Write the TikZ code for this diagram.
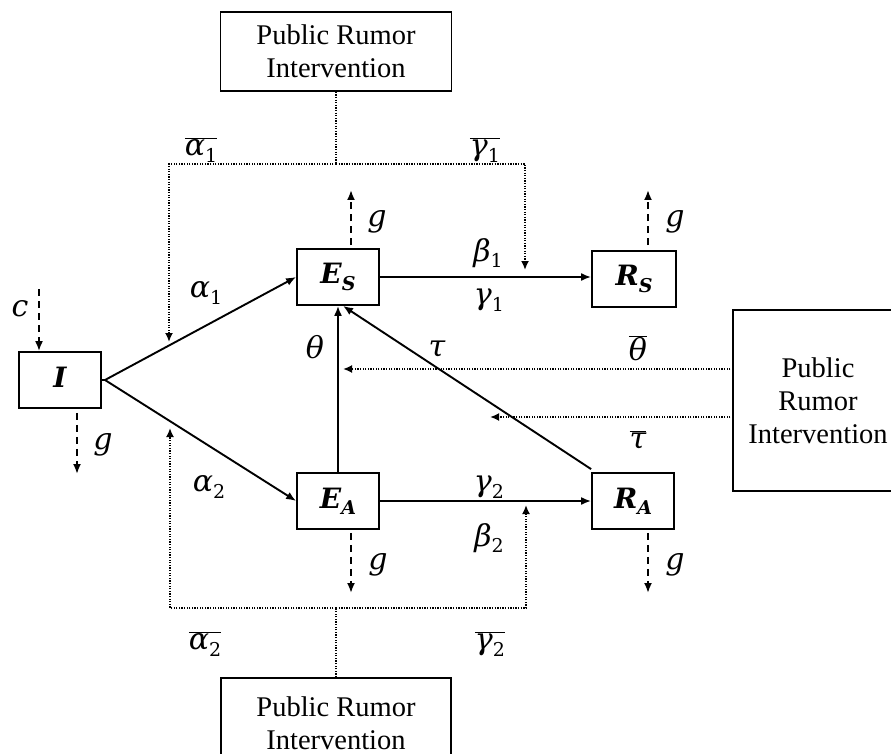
\RequirePackage{fix-cm}
\documentclass[tikz,border=0pt]{standalone}
\usepackage{fontspec}
\newfontfamily\boxfont{Liberation Serif}
\newfontfamily\lf{DejaVu Serif}
\newcommand\sym[2]{{\lf\itshape #1}\raisebox{-0.22em}{\lf\fontsize{19}{19}\selectfont #2}}
\newcommand\bsym[2]{{\lf\bfseries\itshape #1}\raisebox{-0.22em}{\lf\bfseries\itshape\fontsize{19}{19}\selectfont #2}}
\newcommand\ovl[1]{$\overline{\hbox{#1}}$}
\usetikzlibrary{arrows.meta}
\tikzset{
 box/.style={draw, line width=1.8pt, minimum width=82pt, minimum height=56pt, inner sep=0pt, font=\lf\fontsize{28}{30}\selectfont},
 pbox/.style={draw, line width=1.6pt, inner sep=0pt, align=center, font=\boxfont\fontsize{28.5}{33}\selectfont},
 arr/.style={line width=1.9pt, -{Latex[length=10pt,width=8pt]}},
 dasharr/.style={line width=1.9pt, dash pattern=on 7pt off 5pt, -{Latex[length=10pt,width=8pt]}},
 dotline/.style={line width=1.8pt, dash pattern=on 1.3pt off 1.3pt},
 dotarr/.style={dotline, -{Latex[length=9pt,width=8pt]}},
 lbl/.style={font=\lf\fontsize{30}{34}\selectfont, inner sep=0pt},
}
\begin{document}
\begin{tikzpicture}[x=1pt,y=-1pt]
\useasboundingbox (0,0) rectangle (891,754);
\clip (0,0) rectangle (891,754);
% boxes
\node[box] (I) at (60,380) {\bsym{I}{}};
\node[box] (Es) at (338,277) {\bsym{E}{S}};
\node[box, minimum width=84pt] (Rs) at (634,279) {\bsym{R}{S}};
\node[box] (EA) at (338,501) {\bsym{E}{A}};
\node[box] (RA) at (633,501) {\bsym{R}{A}};
\node[pbox, minimum width=231pt, minimum height=79pt] (top) at (336,51.5) {Public Rumor\\Intervention};
\node[pbox, minimum width=230pt, minimum height=90pt] (bot) at (336,723) {Public Rumor\\Intervention};
\node[pbox, minimum width=170pt, minimum height=181pt] (rt) at (818,400.5) {Public\\Rumor\\Intervention};
% coordinates
\coordinate (ap) at (105,380);
\coordinate (t0) at (336,164);
\coordinate (pa1) at (169,342);
\coordinate (pg1) at (525,270);
\coordinate (b0) at (336,608);
\coordinate (pa2) at (170,428);
\coordinate (pb2) at (526,505);
\coordinate (th0) at (733,369);
\coordinate (th1) at (343,369);
\coordinate (ta0) at (733,417);
\coordinate (ta1) at (490,417);
\coordinate (cs) at (39,289);
\coordinate (gI) at (77,474);
\coordinate (gEs) at (351,190);
\coordinate (gRs) at (648,190);
\coordinate (gEA) at (351,593);
\coordinate (gRA) at (648,593);
% main arrows
\draw[line width=1.9pt] (I.east) -- (ap);
\draw[arr] (ap) -- (Es.west);
\draw[arr] (ap) -- (EA.west);
\draw[arr] (Es.east) -- (Es.east -| Rs.west);
\draw[arr] (EA.east) -- (RA.west);
\draw[arr] (EA.north) -- (Es.south);
\draw[arr] ([yshift=3pt]RA.north west) -- ([xshift=5pt]Es.south);
% dashed arrows
\draw[dasharr] (cs) -- ([xshift=-21pt]I.north);
\draw[dasharr] ([xshift=17pt,yshift=-4pt]I.south) -- (gI);
\draw[dasharr] ([xshift=13pt,yshift=3pt]Es.north) -- (gEs);
\draw[dasharr] ([xshift=14pt,yshift=5pt]Rs.north) -- (gRs);
\draw[dasharr] ([xshift=13pt,yshift=-3pt]EA.south) -- (gEA);
\draw[dasharr] ([xshift=15pt,yshift=-3pt]RA.south) -- (gRA);
% dotted
\draw[dotline] (top.south) -- (t0);
\draw[dotarr] (t0) -| (pa1);
\draw[dotarr] (t0) -| (pg1);
\draw[dotline] (bot.north) -- (b0);
\draw[dotarr] (b0) -| (pa2);
\draw[dotarr] (b0) -| (pb2);
\draw[dotarr] (th0) -- (th1);
\draw[dotarr] (ta0) -- (ta1);
% labels
\node[lbl] (l1) at (201,150) {\ovl{\sym{α}{1}}};
\node[lbl] (l2) at (485,150) {\ovl{\sym{γ}{1}}};
\node[lbl] (l3) at (205,644) {\ovl{\sym{α}{2}}};
\node[lbl] (l4) at (490,644) {\ovl{\sym{γ}{2}}};
\node[lbl] (l5) at (206,293) {\sym{α}{1}};
\node[lbl] (l6) at (209,487) {\sym{α}{2}};
\node[lbl] (l7) at (20,312) {\sym{c}{}};
\node[lbl] (l8) at (103,445) {\sym{g}{}};
\node[lbl] (l9) at (315,350) {\sym{θ}{}};
\node[lbl] (l10) at (437,352) {\sym{τ}{}};
\node[lbl] (l11) at (488,253) {\sym{β}{1}};
\node[lbl] (l12) at (489,300) {\sym{γ}{1}};
\node[lbl] (l13) at (377,222) {\sym{g}{}};
\node[lbl] (l14) at (675,222) {\sym{g}{}};
\node[lbl] (l15) at (489,487) {\sym{γ}{2}};
\node[lbl] (l16) at (489,538) {\sym{β}{2}};
\node[lbl] (l17) at (378,565) {\sym{g}{}};
\node[lbl] (l18) at (675,565) {\sym{g}{}};
\node[lbl] (l19) at (638,351) {\ovl{\sym{θ}{}}};
\node[lbl] (l20) at (638,443) {\ovl{\sym{τ}{}}};
\end{tikzpicture}
\end{document}
